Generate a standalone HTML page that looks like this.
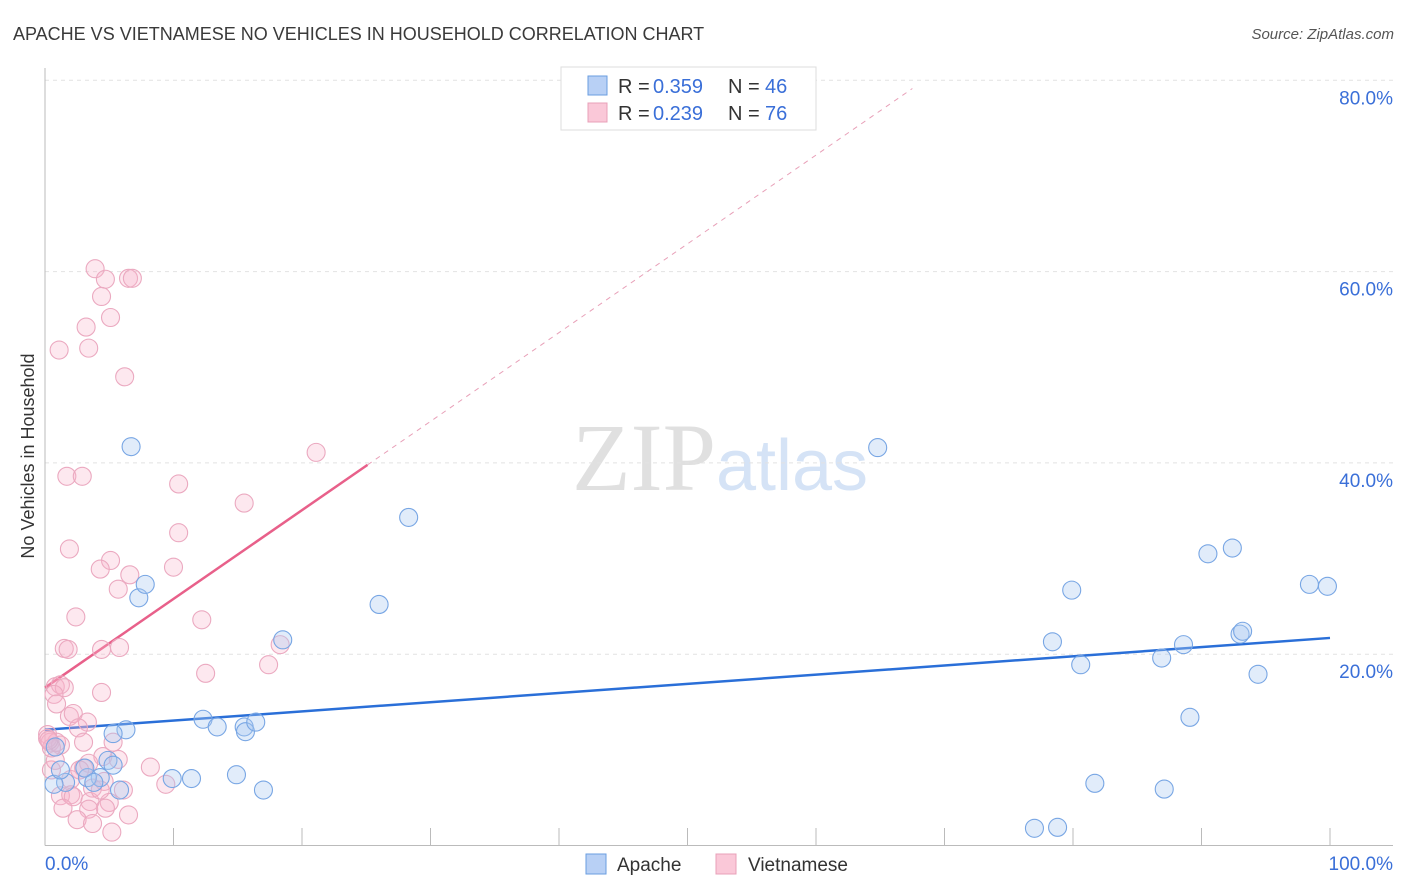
<!DOCTYPE html>
<html><head><meta charset="utf-8"><style>
body{margin:0;background:#fff;font-family:"Liberation Sans",sans-serif;}
svg{display:block}
</style></head><body>
<svg id="chart" width="1406" height="892" xmlns="http://www.w3.org/2000/svg">
<text x="13" y="40" font-size="18" fill="#3a3a3a">APACHE VS VIETNAMESE NO VEHICLES IN HOUSEHOLD CORRELATION CHART</text>
<text x="1394" y="39" font-size="15" fill="#555" text-anchor="end" font-style="italic">Source: ZipAtlas.com</text>
<text x="720" y="490" font-size="96" text-anchor="middle" font-family="Liberation Serif" fill="#e0e0e0"><tspan>ZIP</tspan><tspan fill="#d5e3f6" font-family="Liberation Sans" font-size="72">atlas</tspan></text>
<g id="grid"></g>
<g id="axes"></g>
<g id="trend"></g>
<g id="points"></g>
<text transform="translate(34,456) rotate(-90)" font-size="18" fill="#333" text-anchor="middle">No Vehicles in Household</text>
<g>
<rect x="561" y="67" width="255" height="63" fill="#fff" stroke="#ddd"/>
<rect x="588" y="76" width="19" height="19" fill="#b8d0f5" stroke="#6a9ee0"/>
<rect x="588" y="103" width="19" height="19" fill="#fac8d8" stroke="#e8a0b8"/>
<text y="93" font-size="20" fill="#333"><tspan x="618">R =</tspan><tspan x="653" fill="#3a6fd8">0.359</tspan><tspan x="728">N =</tspan><tspan x="765" fill="#3a6fd8">46</tspan></text>
<text y="120" font-size="20" fill="#333"><tspan x="618">R =</tspan><tspan x="653" fill="#3a6fd8">0.239</tspan><tspan x="728">N =</tspan><tspan x="765" fill="#3a6fd8">76</tspan></text>
</g>
<g>
<rect x="586" y="854" width="20" height="20" fill="#b8d0f5" stroke="#6a9ee0"/>
<text x="617" y="871" font-size="19" fill="#333">Apache</text>
<rect x="716" y="854" width="20" height="20" fill="#fac8d8" stroke="#e8a0b8"/>
<text x="748" y="871" font-size="19" fill="#333">Vietnamese</text>
</g>
</svg>
<script>
const yTicks=[20,40,60,80];
const yTickLabels=["20.0%","40.0%","60.0%","80.0%"];
const xTicks=[0,10,20,30,40,50,60,70,80,90,100];
const apacheX=[6.7,64.8,28.3,7.3,7.8,26.0,79.9,90.5,92.4,98.4,99.8,78.4,80.6,86.9,88.6,93.0,93.2,94.4,89.1,81.7,87.1,77.0,78.8,18.5,12.3,13.4,15.5,15.6,16.4,6.3,5.3,4.9,9.9,11.4,14.9,17.0,5.8,4.3,3.3,1.6,0.7,1.2,3.1,0.8,3.8,5.3];
const apacheY=[41.7,41.6,34.3,25.9,27.3,25.2,26.7,30.5,31.1,27.3,27.1,21.3,18.9,19.6,21.0,22.1,22.4,17.9,13.4,6.5,5.9,1.8,1.9,21.5,13.2,12.4,12.4,11.9,12.9,12.1,11.7,8.9,7.0,7.0,7.4,5.8,5.8,7.1,7.1,6.6,6.4,7.9,8.1,10.3,6.6,8.4];
const vietX=[3.9,4.7,6.5,6.8,4.4,5.1,3.2,1.1,3.4,6.2,21.1,1.7,2.9,10.4,15.5,10.4,1.9,5.1,4.3,6.6,10.0,5.7,2.4,12.2,18.3,1.5,1.8,4.4,5.8,17.4,12.5,4.4,0.8,1.2,1.5,0.7,0.9,1.9,2.2,3.3,2.6,0.2,0.4,0.9,3.0,5.3,4.5,5.7,3.0,3.4,8.2,0.5,2.0,2.7,3.7,4.6,6.1,9.4,1.2,2.0,2.2,3.5,5.0,4.7,3.4,2.5,3.7,6.5,5.2,4.3,1.2,0.8,0.2,0.5,1.4,0.3];
const vietY=[60.3,59.2,59.3,59.3,57.4,55.2,54.2,51.8,52.0,49.0,41.1,38.6,38.6,37.8,35.8,32.7,31.0,29.8,28.9,28.3,29.1,26.8,23.9,23.6,21.0,20.6,20.5,20.5,20.7,18.9,18.0,16.0,16.6,16.8,16.5,15.8,14.8,13.5,13.8,12.9,12.3,11.6,10.8,10.8,10.8,10.8,9.3,9.0,8.1,8.6,8.2,7.9,6.9,7.9,6.0,6.7,5.8,6.4,5.2,5.3,5.1,4.6,4.5,3.9,3.8,2.7,2.3,3.2,1.4,5.8,10.5,8.9,11.2,10.2,3.9,11.0];
const apacheTrend=[12.1,0.096];
const vietTrend=[16.5,0.928];
const NS="http://www.w3.org/2000/svg";
const X=v=>45+v*12.85, Y=v=>845.5-v*9.565;
function mk(tag,attrs,parent){const e=document.createElementNS(NS,tag);for(const k in attrs)e.setAttribute(k,attrs[k]);document.getElementById(parent).appendChild(e);return e;}
yTicks.forEach((t,i)=>{
 const g=mk('line',{x1:45,x2:1393,y1:Y(t),y2:Y(t),stroke:'#e2e2e2','stroke-dasharray':'4,4'},'grid');
 
 
 const l=mk('text',{x:1393,y:Y(t)+24,'font-size':19,fill:'#3a6fd8','text-anchor':'end'},'grid');
 l.textContent=yTickLabels[i];
 
 
});
const ax=mk('line',{x1:45,x2:1393,y1:845.5,y2:845.5,stroke:'#bbb'},'axes');


const ay=mk('line',{x1:45,x2:45,y1:68,y2:845.5,stroke:'#bbb'},'axes');


xTicks.forEach(t=>{if(t===0)return;
 const tk=mk('line',{x1:X(t),x2:X(t),y1:828,y2:845,stroke:'#bbb'},'axes');
 
 
});
[["0.0%",45,"start"],["100.0%",1393,"end"]].forEach(a=>{
 const t=mk('text',{x:a[1],y:870,'font-size':19,fill:'#3a6fd8','text-anchor':a[2]},'axes');
 t.textContent=a[0];
 
 
});
function circles(xs,ys,fill,stroke,name){xs.forEach((x,i)=>{
 const c=mk('circle',{cx:X(x),cy:Y(ys[i]),r:9,fill:fill,stroke:stroke,'stroke-width':1.1},'points');
 
 
});}
circles(vietX,vietY,'rgba(248,180,202,0.3)','#eba9c0','vietnamese-point');
circles(apacheX,apacheY,'rgba(170,200,242,0.35)','#78a6e4','apache-point');
const tb=mk('line',{x1:X(0),y1:Y(apacheTrend[0]),x2:X(100),y2:Y(apacheTrend[0]+100*apacheTrend[1]),stroke:'#2a6fd8','stroke-width':2.5},'trend');


const tp=mk('line',{x1:X(0),y1:Y(vietTrend[0]),x2:X(25.1),y2:Y(vietTrend[0]+25.1*vietTrend[1]),stroke:'#e8608a','stroke-width':2.5},'trend');


const td=mk('line',{x1:X(25.1),y1:Y(vietTrend[0]+25.1*vietTrend[1]),x2:X(67.5),y2:Y(vietTrend[0]+67.5*vietTrend[1]),stroke:'#e8a0b8','stroke-width':1,'stroke-dasharray':'5,5'},'trend');


</script>
</body></html>
